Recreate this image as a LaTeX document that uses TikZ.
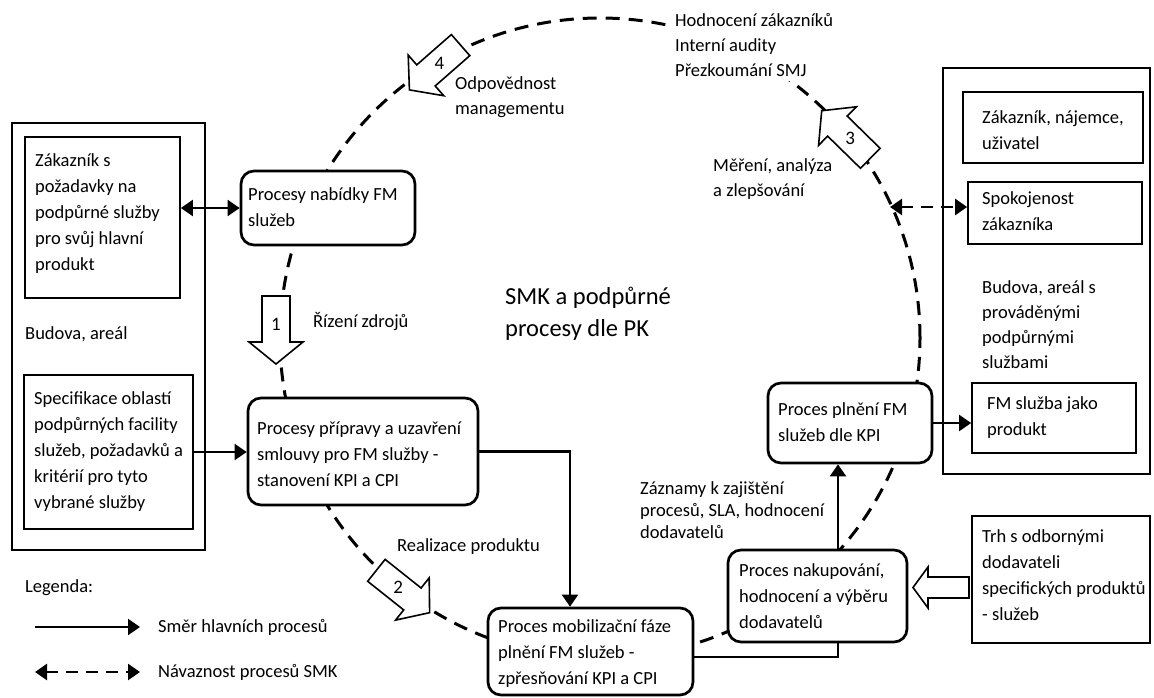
\documentclass[tikz,border=0pt]{standalone}
\usepackage{fontspec}
\setmainfont{Carlito}
\usetikzlibrary{arrows.meta}

\tikzset{
  frame/.style={draw, line width=1.7pt, inner sep=0pt},
  plainbox/.style={draw, line width=1.7pt, fill=white, inner sep=0pt},
  procbox/.style={draw, line width=2.7pt, rounded corners=13pt, fill=white, inner sep=0pt},
  txt/.style={anchor=west, align=left, inner sep=0pt, font=\fontsize{18.5}{26}\selectfont},
  freetxt/.style={txt, font=\fontsize{18.5}{25}\selectfont},
  headtip/.tip={Triangle[length=12pt,width=16pt]},
  flow/.style={line width=2.2pt, -headtip},
  twoway/.style={line width=2.2pt, headtip-headtip},
  link/.style={line width=2.6pt, dash pattern=on 12pt off 8pt, headtip-headtip},
  cyc/.style={line width=3pt, dash pattern=on 14pt off 9pt},
  hollow/.style={draw, line width=1.6pt, fill=white, line join=miter},
  num/.style={inner sep=0pt, font=\fontsize{19}{22}\selectfont},
}

% hollow block arrow: centre x, centre y, direction, number, node name
\newcommand{\qmsarrow}[5]{%
  \begin{scope}[shift={(#1,#2)}, rotate=#3]
    \draw[hollow] (-34,-14) -- (12,-14) -- (12,-27) -- (34,0) -- (12,27) -- (12,14) -- (-34,14) -- cycle;
    \node[num] (#5) at (-6,0) {#4};
  \end{scope}}

\begin{document}
\begin{tikzpicture}[x=1pt, y=-1pt]
\useasboundingbox (0,0) rectangle (1154,697);

% outer frames: customer side and building side
\node[frame, minimum width=193, minimum height=427] (leftframe) at (108.5,336.5) {};
\node[frame, minimum width=207, minimum height=406] (rightframe) at (1046.5,271) {};

% the QMS cycle
\coordinate (hub) at (600,338);
\draw[cyc] (hub) circle[radius=320pt];

% boxes of the customer side
\node[plainbox, minimum width=155, minimum height=161] (zak) at (102.5,217.5) {};
\node[txt] (zakT) at (35,213.5) {Zákazník s\\požadavky na\\podpůrné služby\\pro svůj hlavní\\produkt};
\node[freetxt] (budL) at (25,334) {Budova, areál};
\node[plainbox, minimum width=169, minimum height=154] (spec) at (108.5,452) {};
\node[txt] (specT) at (34,452) {Specifikace oblastí\\podpůrných facility\\služeb, požadavků a\\kritérií pro tyto\\vybrané služby};

% process boxes
\node[procbox, minimum width=174, minimum height=74] (nab) at (328,208) {};
\node[txt] (nabT) at (248,207.5) {Procesy nabídky FM\\služeb};
\node[procbox, minimum width=230, minimum height=107] (prip) at (363,451.5) {};
\node[txt] (pripT) at (257,454) {Procesy přípravy a uzavření\\smlouvy pro FM služby -\\stanovení KPI a CPI};
\node[procbox, minimum width=205, minimum height=87] (mob) at (590.5,651.5) {};
\node[txt] (mobT) at (498,654) {Proces mobilizační fáze\\plnění FM služeb -\\zpřesňování KPI a CPI};
\node[procbox, minimum width=179, minimum height=92] (nak) at (817.5,596) {};
\node[txt] (nakT) at (739,596) {Proces nakupování,\\hodnocení a výběru\\dodavatelů};
\node[procbox, minimum width=164, minimum height=80] (pln) at (850,423) {};
\node[txt] (plnT) at (778,422.5) {Proces plnění FM\\služeb dle KPI};

% boxes of the building side
\node[plainbox, minimum width=180, minimum height=71] (zak2) at (1053,127.5) {};
\node[txt] (zak2T) at (982,130.5) {Zákazník, nájemce,\\uživatel};
\node[plainbox, minimum width=174, minimum height=62] (spok) at (1055,213) {};
\node[txt] (spokT) at (982,211.5) {Spokojenost\\zákazníka};
\node[freetxt] (budR) at (982,325) {Budova, areál s\\prováděnými\\podpůrnými\\službami};
\node[plainbox, minimum width=164, minimum height=70] (fm) at (1054,418) {};
\node[txt] (fmT) at (987,417.5) {FM služba jako\\produkt};
\node[plainbox, minimum width=178, minimum height=127] (trh) at (1061,579.5) {};
\node[txt] (trhT) at (982,575.5) {Trh s odbornými\\dodavateli\\specifických produktů\\- služeb};

% numbered steps of the cycle
\qmsarrow{276}{330}{-90}{1}{step1}
\qmsarrow{403}{591.5}{-38.5}{2}{step2}
\qmsarrow{846}{134.5}{135.6}{3}{step3}
\qmsarrow{435}{67.5}{221.2}{4}{step4}

% supplier market feeding the purchasing process
\draw[hollow] (969,577) -- (928,577) -- (928,567) -- (913,587.5) -- (928,608) -- (928,598) -- (969,598) -- cycle;

% main process flow
\draw[twoway] (nab.west -| zak.east) -- (nab.west);
\draw[flow] (spec.east) -- (spec.east -| prip.west);
\draw[flow] (prip.east) -| ([xshift=-20.5pt]mob.north);
\draw[flow] ([xshift=20.5pt]nak.north) -- ([xshift=20.5pt]nak.north |- pln.south);
\draw[line width=2.2pt] ([xshift=20.5pt]nak.south) |- ([yshift=-5.5pt]mob.east);
\draw[flow] (pln.east) -- (pln.east -| fm.west);

% customer satisfaction link
\coordinate (satisf) at (890,207);
\draw[link] (satisf) -- (satisf -| spok.west);

% labels along the cycle
\node[freetxt, fill=white, inner sep=4pt] (review) at (671,45) {Hodnocení zákazníků\\Interní audity\\Přezkoumání SMJ};
\node[freetxt] (odp) at (455,97.5) {Odpovědnost\\managementu};
\node[freetxt] (mer) at (713,179) {Měření, analýza\\a zlepšování};
\node[freetxt] (riz) at (313,322) {Řízení zdrojů};
\node[freetxt] (real) at (397,547) {Realizace produktu};
\node[txt, font=\fontsize{18.5}{22}\selectfont] (zaz) at (640,510) {Záznamy k zajištění\\procesů, SLA, hodnocení\\dodavatelů};
\node[txt, font=\fontsize{24.5}{32}\selectfont] (title) at (505,314) {SMK a podpůrné\\procesy dle PK};

% legend
\node[freetxt] (legend) at (25,588) {Legenda:};
\node[freetxt] (legS) at (158,627) {Směr hlavních procesů};
\node[freetxt] (legN) at (158,672) {Návaznost procesů SMK};
\coordinate (legS0) at (35,627);
\coordinate (legS1) at (140,627);
\coordinate (legN0) at (35,672);
\coordinate (legN1) at (140,672);
\draw[flow] (legS0) -- (legS1);
\draw[link] (legN0) -- (legN1);
\end{tikzpicture}
\end{document}
